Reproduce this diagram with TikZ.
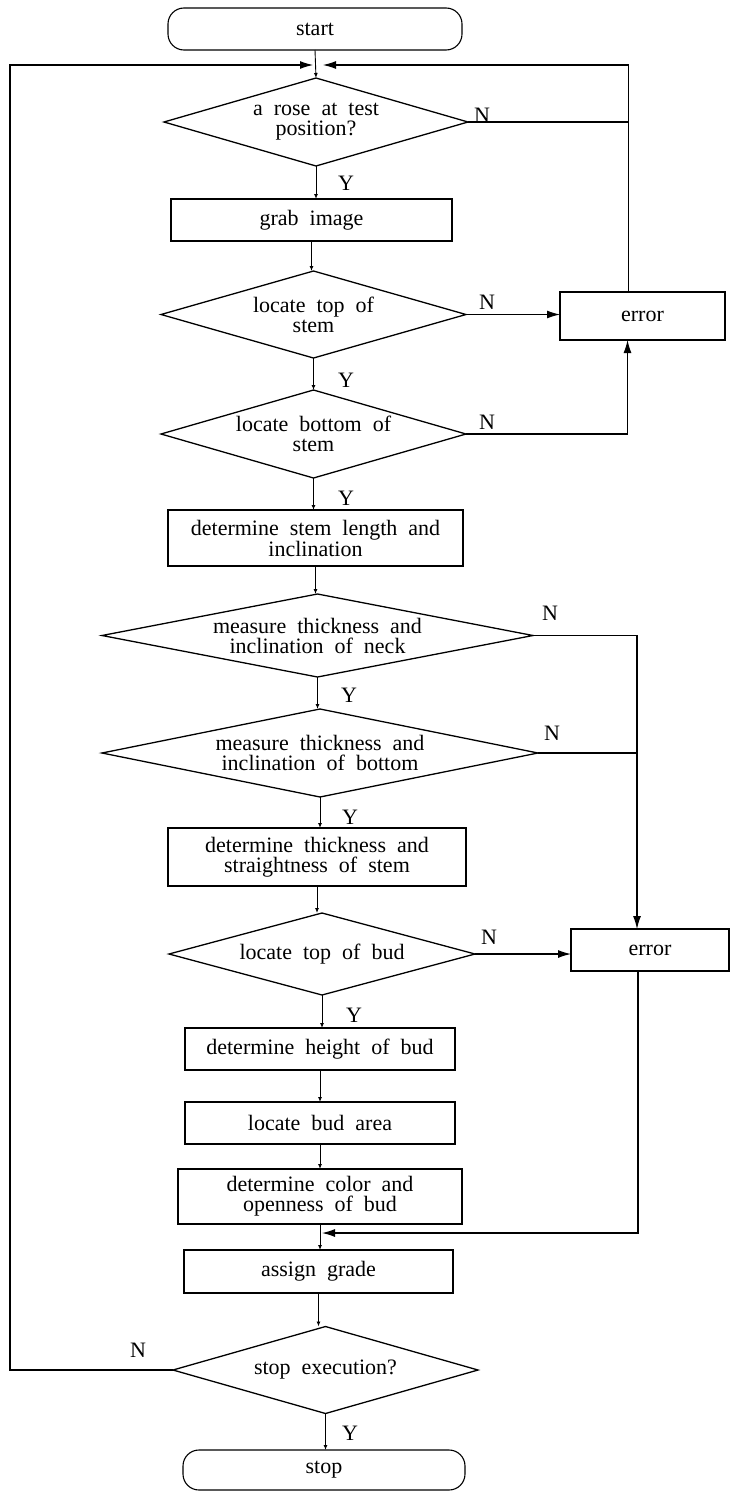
\documentclass[tikz,border=0pt]{standalone}
\usepackage{fontspec}
\setmainfont{Liberation Serif}[WordSpace=2]
\usetikzlibrary{arrows.meta,shapes.geometric}
\begin{document}
\begin{tikzpicture}[x=1pt,y=-1pt,
  every node/.style={font=\fontsize{22}{20}\selectfont},
  proc/.style={draw, line width=1.1pt, inner sep=0pt, outer sep=0pt, align=center},
  term/.style={proc, rounded corners=16pt},
  dia/.style={draw, diamond, line width=1.3pt, inner sep=0pt, outer sep=0pt},
  flow/.style={line width=0.9pt, -{Latex[length=5pt,width=4pt]}},
  bigflow/.style={line width=1.1pt, -{Latex[length=13pt,width=8pt]}},
  plain/.style={line width=1.1pt},
  lab/.style={inner sep=0pt}]
\useasboundingbox (0,0) rectangle (730,1491);

% main column
\node[term, minimum width=294pt, minimum height=42pt] (start) at (315,29) {start};
\node[dia, minimum width=304pt, minimum height=88pt,
  label={[align=center]center:{a rose at test\\position?}}] (d1) at (316,122) {};
\node[proc, minimum width=281pt, minimum height=42pt] (grab) at (311.5,220) {grab image};
\node[dia, minimum width=305pt, minimum height=87pt,
  label={[align=center]center:{locate top of\\stem}}] (d2) at (313.5,314.5) {};
\node[dia, minimum width=305pt, minimum height=88pt,
  label={[align=center]center:{locate bottom of\\stem}}] (d3) at (313.5,434) {};
\node[proc, minimum width=295pt, minimum height=56pt] (slen) at (315.5,538) {determine stem length and\\inclination};
\node[dia, minimum width=431pt, minimum height=83pt,
  label={[align=center]center:{measure thickness and\\inclination of neck}}] (d4) at (317.5,635.5) {};
\node[dia, minimum width=436pt, minimum height=88pt,
  label={[align=center]center:{measure thickness and\\inclination of bottom}}] (d5) at (320,753) {};
\node[proc, minimum width=298pt, minimum height=58pt] (thick) at (317,857) {determine thickness and\\straightness of stem};
\node[dia, minimum width=306pt, minimum height=82pt,
  label={[align=center]center:{locate top of bud}}] (d6) at (322,954) {};
\node[proc, minimum width=270pt, minimum height=42pt] (hgt) at (320,1049) {determine height of bud};
\node[proc, minimum width=270pt, minimum height=42pt] (area) at (320,1123) {locate bud area};
\node[proc, minimum width=284pt, minimum height=55pt] (col) at (320,1196.5) {determine color and\\openness of bud};
\node[proc, minimum width=269pt, minimum height=43pt] (grade) at (318.5,1271.5) {assign grade};
\node[dia, minimum width=305pt, minimum height=87pt,
  label={[align=center]center:{stop execution?}}] (d7) at (325.5,1370) {};
\node[term, minimum width=282pt, minimum height=40pt] (stop) at (324,1470) {stop};

% error boxes
\node[proc, minimum width=165pt, minimum height=48pt] (e1) at (642.5,316) {error};
\node[proc, minimum width=158pt, minimum height=42pt] (e2) at (650,950) {error};

% helper coordinates
\coordinate (lt) at (10,65);
\coordinate (jl) at (313,65);
\coordinate (jr) at (323,65);
\coordinate (rt) at (628,65);
\coordinate (e1t) at ([xshift=-14pt]e1.north);
\coordinate (e1b) at ([xshift=-15pt]e1.south);
\coordinate (e2t) at ([xshift=-13pt]e2.north);
\coordinate (e2b) at ([xshift=-12pt]e2.south);
\coordinate (ret) at (322,1233);

% main flow
\draw[flow] (start.south) -- (d1.north);
\draw[flow] (d1.south) -- (d1.south |- grab.north);
\draw[flow] (grab.south) -- (grab.south |- d2.north);
\draw[flow] (d2.south) -- (d2.south |- d3.north);
\draw[flow] (d3.south) -- (d3.south |- slen.north);
\draw[flow] (slen.south) -- (slen.south |- d4.north);
\draw[flow] (d4.south) -- (d4.south |- d5.north);
\draw[flow] (d5.south) -- (d5.south |- thick.north);
\draw[flow] (thick.south) -- (thick.south |- d6.north);
\draw[flow] (d6.south) -- (d6.south |- hgt.north);
\draw[flow] (hgt.south) -- (hgt.south |- area.north);
\draw[flow] (area.south) -- (area.south |- col.north);
\draw[flow] (col.south) -- (col.south |- grade.north);
\draw[flow] (grade.south) -- (grade.south |- d7.north);
\draw[flow] (d7.south) -- (d7.south |- stop.north);

% loops
\draw[bigflow] (d7.west) -| (lt) -- (jl);
\draw[bigflow] (e1t) |- (jr);
\draw[plain] (d1.east) -- (d1.east -| rt);
\draw[bigflow] (d2.east) -- (d2.east -| e1.west);
\draw[bigflow] (d3.east) -| (e1b);
\draw[bigflow] (d4.east) -| (e2t);
\draw[plain] (d5.east) -- (d5.east -| e2t);
\draw[bigflow] (d6.east) -- (d6.east -| e2.west);
\draw[bigflow] (e2b) |- (ret);

% labels
\node[lab] (n1) at (482,115) {N};
\node[lab] (y1) at (346,183) {Y};
\node[lab] (n2) at (487,302) {N};
\node[lab] (y2) at (346,380) {Y};
\node[lab] (n3) at (487,422) {N};
\node[lab] (y3) at (346,498) {Y};
\node[lab] (n4) at (550,613) {N};
\node[lab] (y4) at (349,695) {Y};
\node[lab] (n5) at (552,733) {N};
\node[lab] (y5) at (350,817) {Y};
\node[lab] (n6) at (489,937) {N};
\node[lab] (y6) at (354,1015) {Y};
\node[lab] (n7) at (138,1350) {N};
\node[lab] (y7) at (350,1433) {Y};
\end{tikzpicture}
\end{document}
